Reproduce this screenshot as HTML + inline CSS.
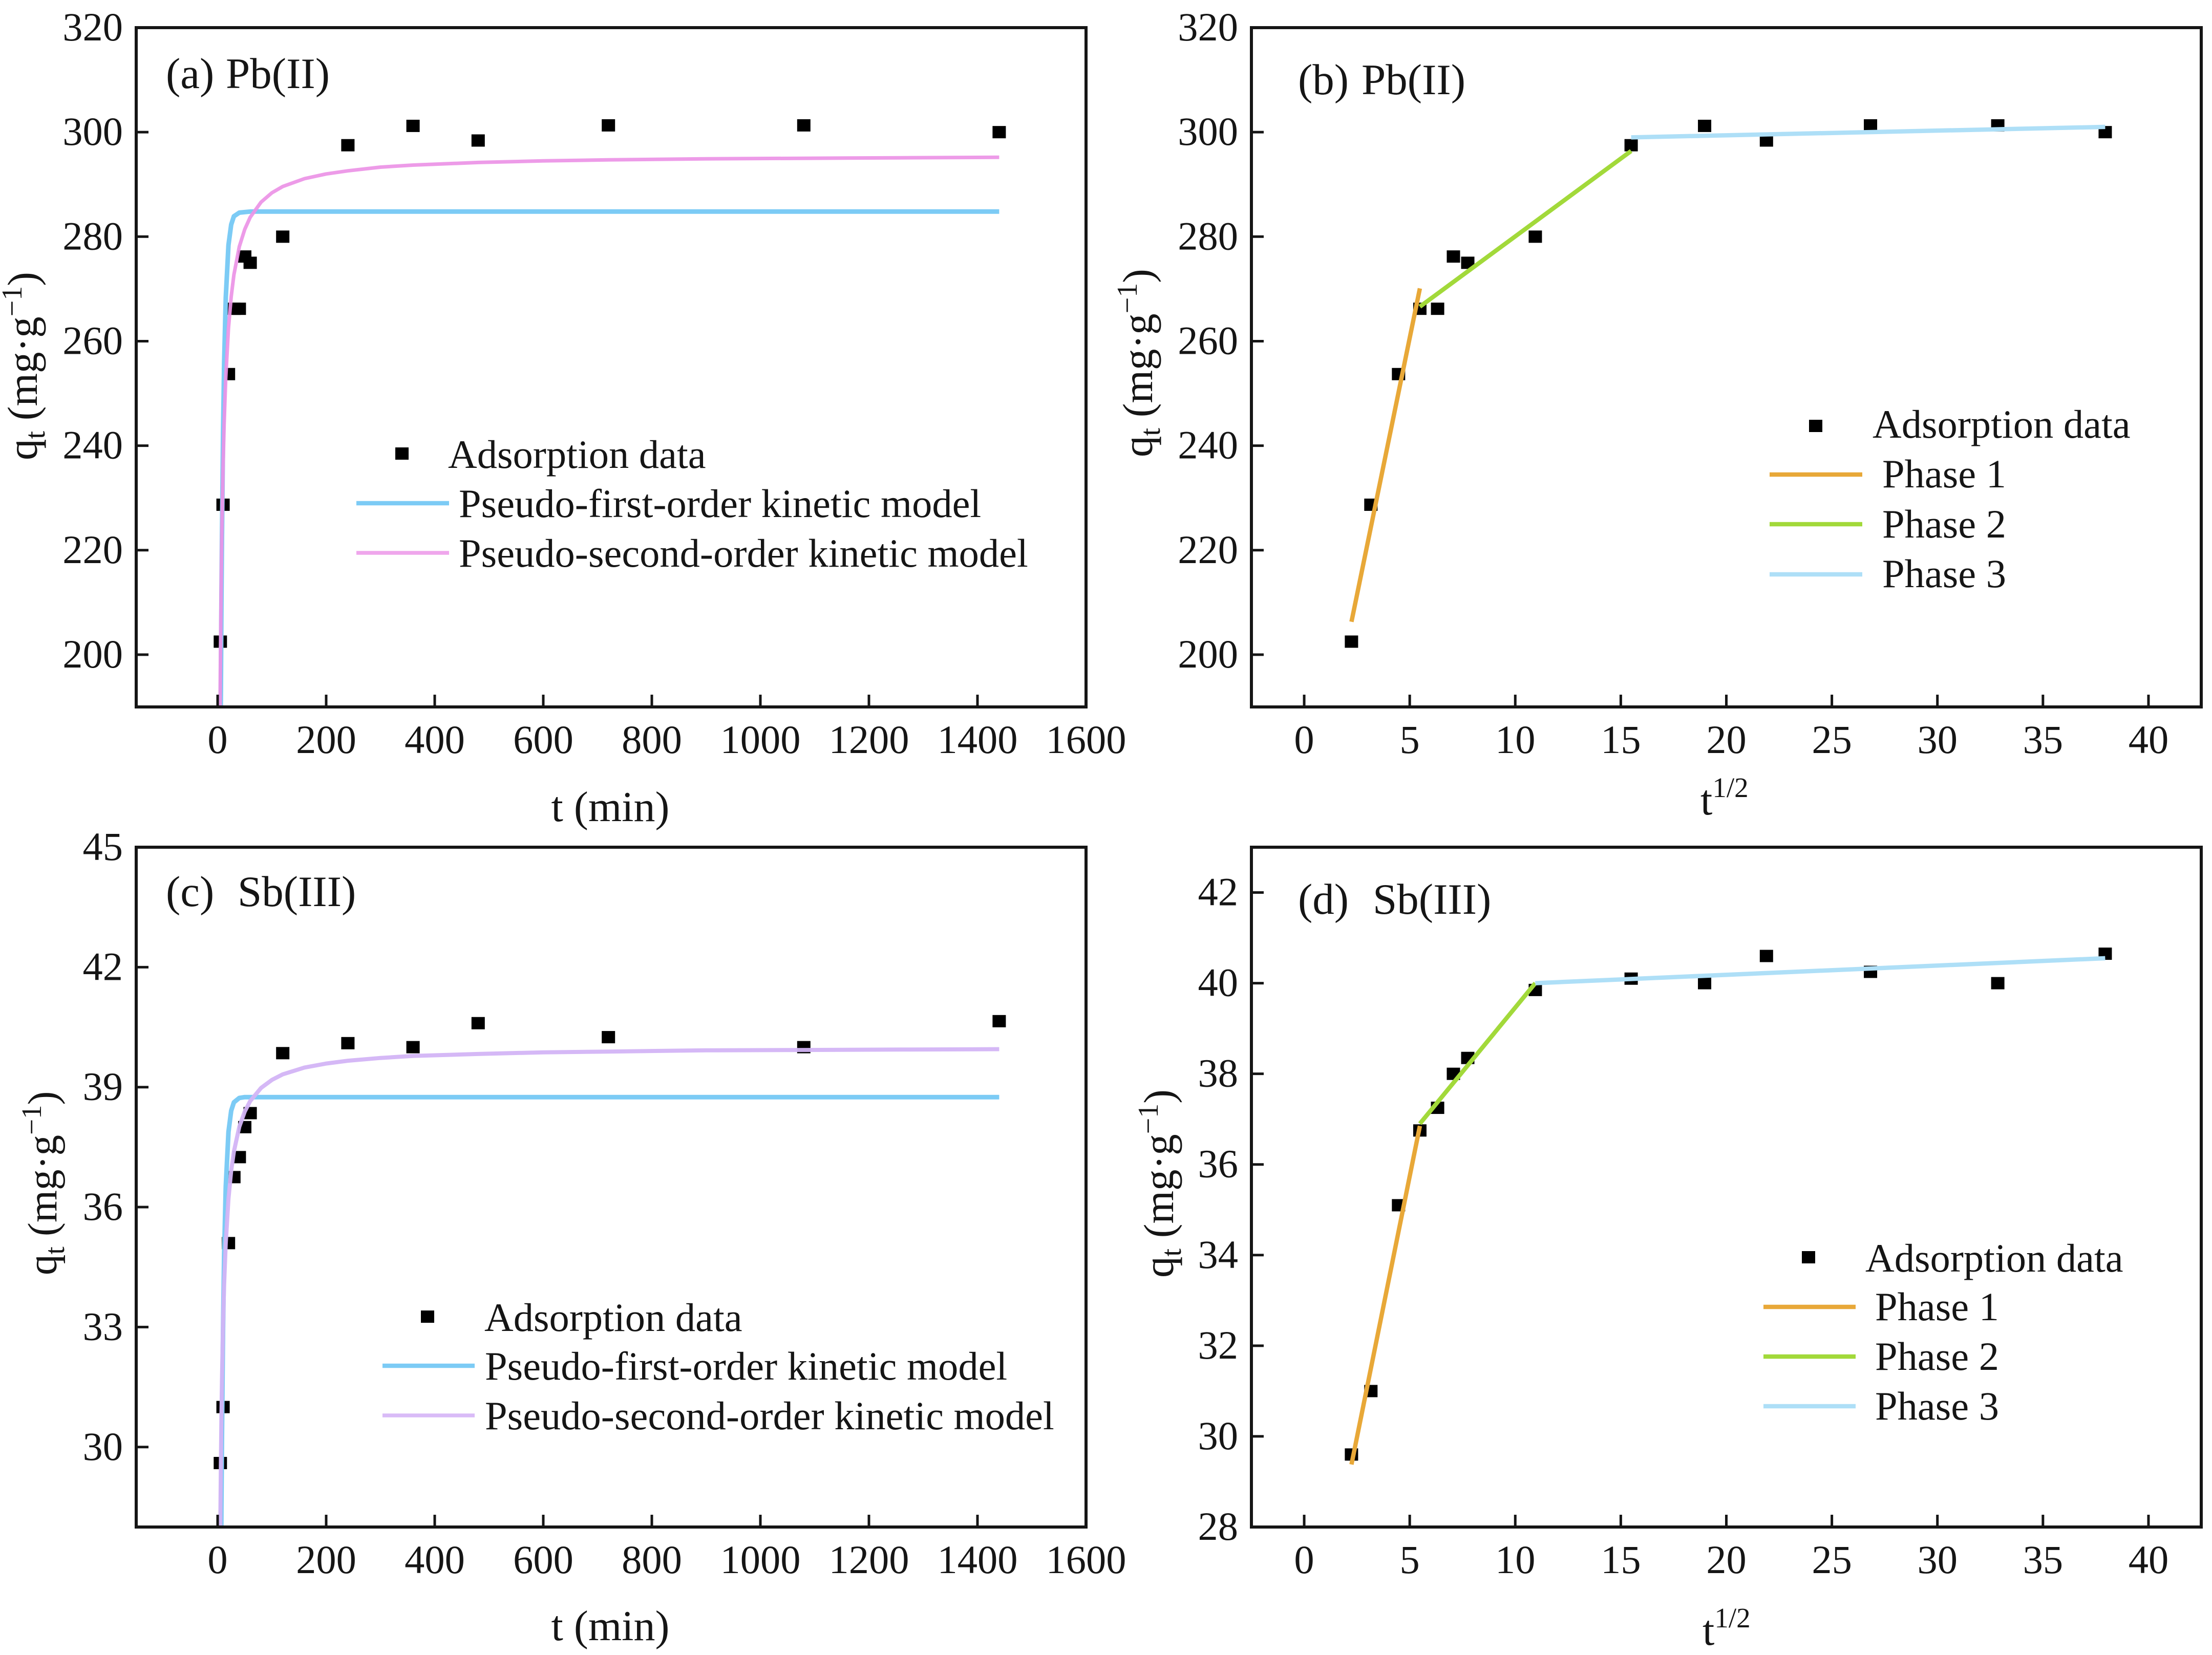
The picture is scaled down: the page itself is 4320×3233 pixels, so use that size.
<!DOCTYPE html>
<html lang="en">
<head>
<meta charset="utf-8">
<title>Adsorption kinetics of Pb(II) and Sb(III)</title>
<style>
html,body{margin:0;padding:0;background:#fff}
svg{display:block;overflow:hidden}
text{font-family:"Liberation Serif",serif;font-size:78.5px;fill:#151515}
.panel-tag{font-size:85px}
.ax-title{font-size:83px}
.ax-title-small{font-size:81px}
.x-title{font-size:84px}
</style>
</head>
<body>
<svg id="figure" xmlns="http://www.w3.org/2000/svg" width="4320" height="3233" viewBox="0 0 4320 3233">

<g id="panel-a"></g>
<g id="panel-b"></g>
<g id="panel-c"></g>
<g id="panel-d"></g>

<g>
<text class="panel-tag" x="324" y="172">(a)</text>
<text class="panel-tag" x="441" y="172">Pb(II)</text>
<text class="panel-tag" x="2535" y="184">(b)</text>
<text class="panel-tag" x="2659" y="184">Pb(II)</text>
<text class="panel-tag" x="324" y="1770">(c)</text>
<text class="panel-tag" x="464" y="1770">Sb(III)</text>
<text class="panel-tag" x="2535" y="1785">(d)</text>
<text class="panel-tag" x="2681" y="1785">Sb(III)</text>
</g>

<g>
<text class="ax-title" transform="translate(72,899) rotate(-90)">q<tspan font-size="56" dy="15">t</tspan><tspan dy="-15"> (mg·g</tspan><tspan font-size="56" dy="-30">−1</tspan><tspan dy="30">)</tspan></text>
<text class="ax-title" transform="translate(2250,893) rotate(-90)">q<tspan font-size="56" dy="15">t</tspan><tspan dy="-15"> (mg·g</tspan><tspan font-size="56" dy="-30">−1</tspan><tspan dy="30">)</tspan></text>
<text class="ax-title-small" transform="translate(110,2491) rotate(-90)">q<tspan font-size="55" dy="15">t</tspan><tspan dy="-15"> (mg·g</tspan><tspan font-size="55" dy="-30">−1</tspan><tspan dy="30">)</tspan></text>
<text class="ax-title" transform="translate(2291,2496) rotate(-90)">q<tspan font-size="56" dy="15">t</tspan><tspan dy="-15"> (mg·g</tspan><tspan font-size="56" dy="-30">−1</tspan><tspan dy="30">)</tspan></text>
<text class="x-title" x="1192" y="1604" text-anchor="middle">t (min)</text>
<text class="x-title" x="1192" y="3204" text-anchor="middle">t (min)</text>
<text class="x-title" x="3321" y="1591">t<tspan font-size="55" dy="-34">1/2</tspan></text>
<text class="x-title" x="3325" y="3213">t<tspan font-size="55" dy="-34">1/2</tspan></text>
</g>

<g>
<rect x="772" y="874" width="26" height="24" fill="#000"/>
<text x="875" y="914">Adsorption data</text>
<line x1="696" x2="877" y1="983" y2="983" stroke="#7CCBF5" stroke-width="8.5"/>
<text x="896" y="1010">Pseudo-first-order kinetic model</text>
<line x1="696" x2="877" y1="1080" y2="1080" stroke="#EFA6EC" stroke-width="7.5"/>
<text x="896" y="1107">Pseudo-second-order kinetic model</text>
</g>

<g>
<rect x="3533" y="820" width="26" height="24" fill="#000"/>
<text x="3657" y="855">Adsorption data</text>
<line x1="3456" x2="3637" y1="927" y2="927" stroke="#E8A838" stroke-width="8.5"/>
<text x="3676" y="952">Phase 1</text>
<line x1="3456" x2="3637" y1="1024" y2="1024" stroke="#A2D93A" stroke-width="8.5"/>
<text x="3676" y="1050">Phase 2</text>
<line x1="3456" x2="3637" y1="1122" y2="1122" stroke="#AEDFF7" stroke-width="8.5"/>
<text x="3676" y="1147">Phase 3</text>
</g>

<g>
<rect x="822" y="2560" width="26" height="24" fill="#000"/>
<text x="946" y="2600">Adsorption data</text>
<line x1="747" x2="927" y1="2668" y2="2668" stroke="#7CCBF5" stroke-width="8.5"/>
<text x="947" y="2695">Pseudo-first-order kinetic model</text>
<line x1="747" x2="927" y1="2765" y2="2765" stroke="#D9BBF7" stroke-width="7.5"/>
<text x="947" y="2792">Pseudo-second-order kinetic model</text>
</g>

<g>
<rect x="3519" y="2444" width="26" height="24" fill="#000"/>
<text x="3643" y="2484">Adsorption data</text>
<line x1="3444" x2="3624" y1="2553" y2="2553" stroke="#E8A838" stroke-width="8.5"/>
<text x="3662" y="2579">Phase 1</text>
<line x1="3444" x2="3624" y1="2650" y2="2650" stroke="#A2D93A" stroke-width="8.5"/>
<text x="3662" y="2676">Phase 2</text>
<line x1="3444" x2="3624" y1="2747" y2="2747" stroke="#AEDFF7" stroke-width="8.5"/>
<text x="3662" y="2773">Phase 3</text>
</g>
</svg>

<script>
const timeMinutes = [5,10,20,30,40,50,60,120,240,360,480,720,1080,1440];
const rootTime = [2.24,3.16,4.47,5.48,6.32,7.07,7.75,10.95,15.49,18.97,21.9,26.83,32.86,37.95];
const pbUptake = [202.5,228.7,253.7,266.2,266.2,276.2,275,280,297.5,301.2,298.4,301.3,301.3,300];
const sbUptake = [29.6,31,35.1,36.75,37.25,38,38.35,39.85,40.1,40,40.6,40.25,40,40.65];

const pfoPbTime = [5.8,6,7,8,10,12,15,20,25,30,40,50,60,120,1440];
const pfoPb = [190,193.7,209.5,222.5,242.2,255.7,268.3,278.4,282.3,283.9,284.6,284.7,284.8,284.8,284.8];
const pfoSbTime = [6.8,7,8,10,12,15,20,25,30,40,50,60,120,1440];
const pfoSb = [28,28.5,30.28,32.95,34.79,36.51,37.88,38.41,38.62,38.73,38.75,38.75,38.75,38.75];

const psoPbTime = [4.6,5,6,7,8,10,12,15,20,25,30,40,50,60,80,100,120,160,200,240,300,360,480,600,720,900,1080,1260,1440];
const psoPb = [190,196.2,207.9,217.1,224.6,235.9,244.1,253,262.5,268.5,272.7,278.1,281.4,283.7,286.6,288.4,289.6,291.1,292,292.6,293.3,293.7,294.2,294.5,294.7,294.9,295,295.1,295.2];
const psoSbTime = [4.9,5,6,7,8,10,12,15,20,25,30,40,50,60,80,100,120,160,200,240,300,360,480,600,720,900,1080,1260,1440];
const psoSb = [28,28.17,29.63,30.77,31.69,33.06,34.05,35.09,36.21,36.91,37.39,38.01,38.39,38.65,38.98,39.18,39.32,39.49,39.59,39.66,39.73,39.78,39.83,39.87,39.89,39.92,39.93,39.94,39.95];

const pbPhase1Root = [2.24,5.48];
const pbPhase1Q = [206.3,270.1];
const pbPhase2Root = [5.48,15.49];
const pbPhase2Q = [266.6,296.4];
const pbPhase3Root = [15.49,37.95];
const pbPhase3Q = [299,301];

const sbPhase1Root = [2.24,5.48];
const sbPhase1Q = [29.38,36.85];
const sbPhase2Root = [5.48,10.95];
const sbPhase2Q = [36.9,40];
const sbPhase3Root = [10.95,37.95];
const sbPhase3Q = [40,40.55];

const timeTicks = [0,200,400,600,800,1000,1200,1400,1600];
const rootTicks = [0,5,10,15,20,25,30,35,40];
const pbTicks = [200,220,240,260,280,300,320];
const sbTicksC = [30,33,36,39,42,45];
const sbTicksD = [28,30,32,34,36,38,40,42];

// ---- drawing ----
const NS = 'http://www.w3.org/2000/svg';

function make(parent, tag, attrs) {
  const el = document.createElementNS(NS, tag);
  for (const k in attrs) el.setAttribute(k, attrs[k]);
  parent.appendChild(el);
  return el;
}

function scale(d0, d1, r0, r1) {
  return v => r0 + (v - d0) * (r1 - r0) / (d1 - d0);
}

function drawPanel(id, box, xDomain, yDomain, xTicks, yTicks, xs, ys, lines) {
  const g = document.getElementById(id);
  const X = scale(xDomain[0], xDomain[1], box.l, box.r);
  const Y = scale(yDomain[0], yDomain[1], box.b, box.t);

  const defs = make(g, 'defs', {});
  const clip = make(defs, 'clipPath', {id: id + '-clip'});
  make(clip, 'rect', {x: box.l, y: box.t, width: box.r - box.l, height: box.b - box.t});

  const plot = make(g, 'g', {'clip-path': 'url(#' + id + '-clip)'});
  
  

  xs.forEach((x, i) => {
    const m = make(plot, 'rect', {x: X(x) - 13, y: Y(ys[i]) - 12, width: 26, height: 24, fill: '#000'});
    
    
  });

  lines.forEach(ln => {
    const pts = ln.x.map((x, i) => X(x).toFixed(1) + ',' + Y(ln.y[i]).toFixed(1)).join(' ');
    const p = make(plot, 'polyline', {points: pts, fill: 'none', stroke: ln.color, 'stroke-width': ln.w, 'stroke-linejoin': 'round', opacity: ln.op || 1});
    
    
  });

  xTicks.forEach(v => {
    const t = make(g, 'line', {x1: X(v), x2: X(v), y1: box.b, y2: box.b - 24, stroke: '#151515', 'stroke-width': 5});
    
    
    const lab = make(g, 'text', {x: X(v), y: box.b + 90, 'text-anchor': 'middle'});
    lab.textContent = v;
    
    
  });

  yTicks.forEach(v => {
    const t = make(g, 'line', {x1: box.l, x2: box.l + 24, y1: Y(v), y2: Y(v), stroke: '#151515', 'stroke-width': 5});
    
    
    const lab = make(g, 'text', {x: box.l - 26, y: Y(v) + 25, 'text-anchor': 'end'});
    lab.textContent = v;
    
    
  });

  const frame = make(g, 'rect', {x: box.l, y: box.t, width: box.r - box.l, height: box.b - box.t, fill: 'none', stroke: '#151515', 'stroke-width': 6});
  
  
}

const BLUE = '#7CCBF5', ORANGE = '#E8A838', GREEN = '#A2D93A', SKY = '#AEDFF7';

drawPanel('panel-a', {l: 266, r: 2121, t: 54, b: 1381}, [-150, 1600], [190, 320], timeTicks, pbTicks, timeMinutes, pbUptake, [
  {x: pfoPbTime, y: pfoPb, color: BLUE, w: 9, name: 'pseudo-first-order-curve'},
  {x: psoPbTime, y: psoPb, color: '#EC93E6', w: 7, op: 0.92, name: 'pseudo-second-order-curve'}
]);

drawPanel('panel-b', {l: 2444, r: 4299, t: 54, b: 1381}, [-2.5, 42.5], [190, 320], rootTicks, pbTicks, rootTime, pbUptake, [
  {x: pbPhase1Root, y: pbPhase1Q, color: ORANGE, w: 8.5, name: 'phase-1-line'},
  {x: pbPhase2Root, y: pbPhase2Q, color: GREEN, w: 8.5, name: 'phase-2-line'},
  {x: pbPhase3Root, y: pbPhase3Q, color: SKY, w: 8.5, name: 'phase-3-line'}
]);

drawPanel('panel-c', {l: 266, r: 2121, t: 1655, b: 2983}, [-150, 1600], [28, 45], timeTicks, sbTicksC, timeMinutes, sbUptake, [
  {x: pfoSbTime, y: pfoSb, color: BLUE, w: 9, name: 'pseudo-first-order-curve'},
  {x: psoSbTime, y: psoSb, color: '#D3B4F6', w: 8, op: 0.95, name: 'pseudo-second-order-curve'}
]);

drawPanel('panel-d', {l: 2444, r: 4299, t: 1655, b: 2983}, [-2.5, 42.5], [28, 43], rootTicks, sbTicksD, rootTime, sbUptake, [
  {x: sbPhase1Root, y: sbPhase1Q, color: ORANGE, w: 8.5, name: 'phase-1-line'},
  {x: sbPhase2Root, y: sbPhase2Q, color: GREEN, w: 8.5, name: 'phase-2-line'},
  {x: sbPhase3Root, y: sbPhase3Q, color: SKY, w: 8.5, name: 'phase-3-line'}
]);
</script>
</body>
</html>
